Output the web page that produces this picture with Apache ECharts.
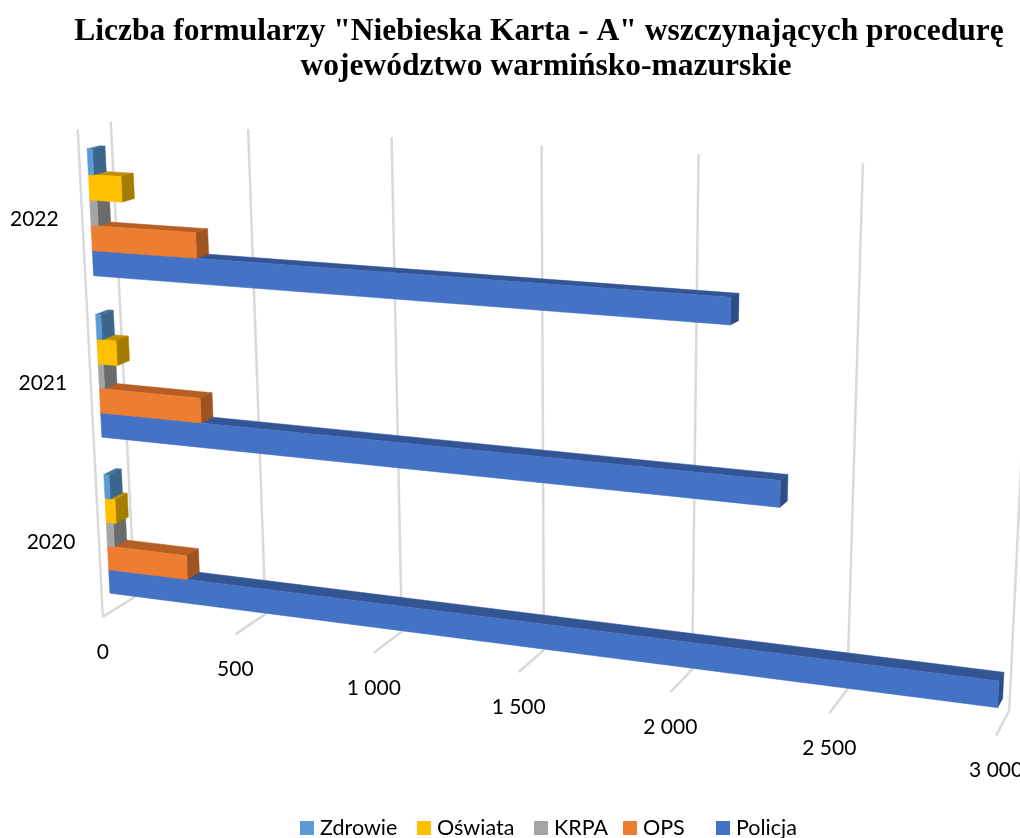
<!DOCTYPE html>
<html>
<head>
<meta charset="utf-8">
<style>
  html, body { margin: 0; padding: 0; background: #fff; }
  #main { width: 1020px; height: 838px; overflow: hidden; }
</style>
</head>
<body>
<div id="main"></div>
<script src="https://cdn.jsdelivr.net/npm/echarts@6/dist/echarts.min.js"></script>
<script>
// values
const years = ['2020', '2021', '2022'];
const policja = [2992, 2319, 2157];
const ops = [300, 375, 383];
const krpa = [27, 20, 27];
const oswiata = [38, 72, 120];
const zdrowie = [20, 20, 20];
const valueTicks = [0, 500, 1000, 1500, 2000, 2500, 3000];
const tickLabels = ['0', '500', '1 000', '1 500', '2 000', '2 500', '3 000'];
const legendNames = ['Zdrowie', 'Oświata', 'KRPA', 'OPS', 'Policja'];
const legendLefts = [295, 412, 529, 618, 711];

// corners of the front and back planes of the 3d box: bottom-left, bottom-right, top-right, top-left
const frontPlane = [[103, 620], [996, 739], [1021, 185], [78, 135]];
const backPlane = [[135, 600], [1009, 714], [1035, 179], [111, 127]];
const barDepth = [0.25, 0.63];
const floorH = 0.007;
const wallTop = 1.011;
const labelFont = 'Lato';

// unit square -> quad
function quadMap(q) {
  const [x0, y0] = q[0], [x1, y1] = q[1], [x2, y2] = q[2], [x3, y3] = q[3];
  const dx1 = x1 - x2, dx2 = x3 - x2, sx = x0 - x1 + x2 - x3;
  const dy1 = y1 - y2, dy2 = y3 - y2, sy = y0 - y1 + y2 - y3;
  const den = dx1 * dy2 - dx2 * dy1;
  const g = (sx * dy2 - dx2 * sy) / den;
  const h = (dx1 * sy - sx * dy1) / den;
  const a = x1 - x0 + g * x1, b = x3 - x0 + h * x3;
  const d = y1 - y0 + g * y1, e = y3 - y0 + h * y3;
  return (u, v) => {
    const w = g * u + h * v + 1;
    return [(a * u + b * v + x0) / w, (d * u + e * v + y0) / w];
  };
}
const frontMap = quadMap(frontPlane);
const backMap = quadMap(backPlane);

// t along the value axis, d front to back, h floor to top
function project(t, d, h) {
  const f = frontMap(t, h), b = backMap(t, h);
  return [f[0] + (b[0] - f[0]) * d, f[1] + (b[1] - f[1]) * d];
}

function gridT(params, api, v) {
  return (api.coord([v, 0])[0] - params.coordSys.x) / params.coordSys.width;
}

function barSeries(name, values, slot, color, sideColor, topColor) {
  return {
    name,
    type: 'custom',
    coordinateSystem: 'cartesian2d',
    clip: false,
    itemStyle: { color },
    encode: { x: 0, y: 1 },
    data: values.map((v, i) => [v, i]),
    renderItem(params, api) {
      const rect = params.coordSys;
      const c = api.coord([api.value(0), api.value(1)]);
      const t = (c[0] - rect.x) / rect.width;
      const mid = (rect.y + rect.height - c[1]) / rect.height;
      const band = api.size([0, 1])[1] / rect.height;
      const barH = band * 0.1526;
      const h0 = mid - band * 5 / 14 + slot * barH;
      const h1 = h0 + barH;
      const [d0, d1] = barDepth;
      const face = (points, fill) => ({
        type: 'polygon',
        shape: { points },
        style: { fill, stroke: fill, lineWidth: 0.5 }
      });
      return {
        type: 'group',
        children: [
          face([project(0, d0, h1), project(t, d0, h1), project(t, d1, h1), project(0, d1, h1)], topColor),
          face([project(t, d0, h0), project(t, d1, h0), project(t, d1, h1), project(t, d0, h1)], sideColor),
          face([project(0, d0, h0), project(t, d0, h0), project(t, d0, h1), project(0, d0, h1)], color)
        ]
      };
    }
  };
}

const gridLine = (a, b) => ({
  type: 'line',
  shape: { x1: a[0], y1: a[1], x2: b[0], y2: b[1] },
  style: { stroke: '#D9D9D9', lineWidth: 2.5 }
});

const wallSeries = {
  type: 'custom',
  coordinateSystem: 'cartesian2d',
  clip: false,
  silent: true,
  encode: { x: 0, y: 1 },
  data: valueTicks.map(v => [v, 0]),
  renderItem(params, api) {
    const t = gridT(params, api, api.value(0));
    const children = [
      gridLine(project(t, 1, floorH), project(t, 1, wallTop)),
      gridLine(project(t, 0, floorH), project(t, 1, floorH))
    ];
    if (params.dataIndex === 0) {
      children.push(gridLine(project(0, 0, floorH), project(0, 0, wallTop)));
    }
    const foot = project(t, 0, floorH);
    children.push({
      type: 'text',
      style: {
        x: foot[0], y: foot[1] + 35,
        text: tickLabels[params.dataIndex],
        fill: '#000', fontSize: 21, fontFamily: labelFont,
        align: 'center', verticalAlign: 'middle'
      }
    });
    return { type: 'group', children };
  }
};

const yearSeries = {
  type: 'custom',
  coordinateSystem: 'cartesian2d',
  clip: false,
  silent: true,
  encode: { x: 0, y: 1 },
  data: years.map((y, i) => [0, i]),
  renderItem(params, api) {
    const rect = params.coordSys;
    const c = api.coord([0, api.value(1)]);
    const h = (rect.y + rect.height - c[1]) / rect.height;
    const p = project(0, 0, h);
    return {
      type: 'text',
      style: {
        x: p[0] - 48, y: p[1],
        text: years[params.dataIndex],
        fill: '#000', fontSize: 21, fontFamily: labelFont,
        align: 'center', verticalAlign: 'middle'
      }
    };
  }
};

const titleStyle = {
  fontFamily: 'Liberation Serif',
  fontWeight: 'bold',
  fontSize: 31.5,
  color: '#000'
};

const chart = echarts.init(document.getElementById('main'), null, { renderer: 'canvas' });
chart.setOption({
  animation: false,
  backgroundColor: '#fff',
  color: ['#5B9BD5', '#FFC000', '#A5A5A5', '#ED7D31', '#4472C4'],
  title: [
    {
      text: 'Liczba formularzy "Niebieska Karta - A" wszczynających procedurę',
      left: 539, top: 16, padding: 0, textAlign: 'center', textStyle: titleStyle
    },
    {
      text: 'województwo warmińsko-mazurskie',
      left: 546, top: 51, padding: 0, textAlign: 'center', textStyle: titleStyle
    }
  ],
  // one legend per name, the gaps in the reference are not even
  legend: legendNames.map((name, i) => ({
    data: [name],
    left: legendLefts[i],
    top: 812,
    icon: 'rect',
    itemWidth: 14,
    itemHeight: 14,
    itemGap: 0,
    textStyle: { fontFamily: labelFont, fontSize: 21.5, color: '#000', padding: [0, 0, 0, 1] }
  })),
  // hidden cartesian axes supply the scales, project() puts them in the 3d box
  grid: { left: 0, top: 0, width: 1000, height: 600 },
  xAxis: { type: 'value', min: 0, max: 3000, interval: 500, show: false },
  yAxis: { type: 'category', data: years, show: false },
  series: [
    wallSeries,
    yearSeries,
    barSeries('Policja', policja, 0, '#4472C4', '#2C4D87', '#345594'),
    barSeries('OPS', ops, 1, '#ED7D31', '#9E5320', '#B55F24'),
    barSeries('KRPA', krpa, 2, '#A5A5A5', '#6B6B6B', '#7C7C7C'),
    barSeries('Oświata', oswiata, 3, '#FFC000', '#A67C00', '#BF9000'),
    barSeries('Zdrowie', zdrowie, 4, '#5B9BD5', '#3B658B', '#44749F')
  ]
});
</script>
</body>
</html>
